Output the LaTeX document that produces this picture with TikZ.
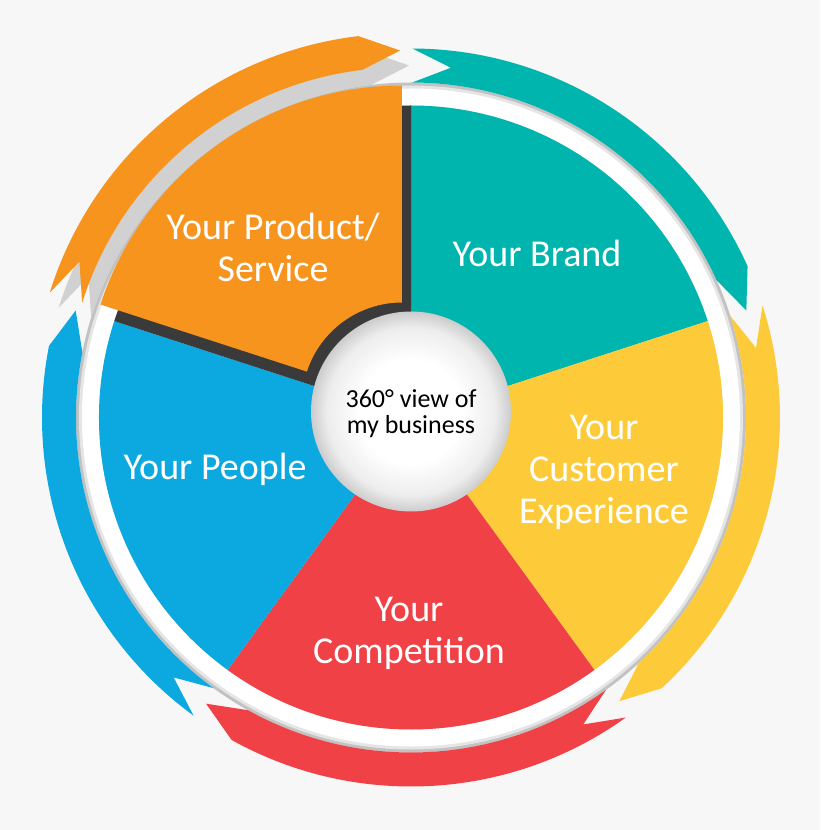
\documentclass[tikz,border=0pt]{standalone}
\usepackage{fontspec}
\setmainfont{Carlito}
\definecolor{bgc}{HTML}{F7F7F7}
\definecolor{cOrange}{HTML}{F7941D}
\definecolor{cTeal}{HTML}{00B5AD}
\definecolor{cYellow}{HTML}{FDCB3A}
\definecolor{cRed}{HTML}{EF4146}
\definecolor{cBlue}{HTML}{0CA8E0}
\definecolor{cShadow}{HTML}{3A3A3A}
\pgfdeclareradialshading{ballshade}{\pgfpoint{0bp}{0bp}}{color(0bp)=(white); color(13bp)=(white); color(21bp)=(black!7); color(25bp)=(black!20); color(50bp)=(black!20)}
\tikzset{
  ringarrow/.style 2 args={insert path={(#1:369) arc[start angle=#1, end angle=#2+6.5, radius=369] -- (#2:352) -- (#2+6.5:335) arc[start angle=#2+6.5, end angle=#1, radius=335] -- (#1-6.3:352) -- cycle}},
  sector/.style 2 args={insert path={(0,0) -- (#1:312) arc[start angle=#1, end angle=#2, radius=312] -- cycle}},
  lbl/.style={text=white, font=\fontsize{38}{42}\selectfont, align=center},
  ctrlbl/.style={text=black, font=\fontsize{26}{26}\selectfont, align=center}
}
\begin{document}
\begin{tikzpicture}[x=1pt,y=1pt]
\useasboundingbox (-411,-412.5) rectangle (409,417.5);
\fill[bgc] (-411,-412.5) rectangle (409,417.5);
% outer ring (tube)
\fill[black!24, even odd rule] (0,0) circle (335) (0,0) circle (312);
\fill[black!10, even odd rule] (0,0) circle (332) (0,0) circle (312);
\fill[white, even odd rule] (0,0) circle (329) (0,0) circle (312);
% arrows
\fill[black!18, ringarrow={162.7}{90.3}];
\fill[cTeal, ringarrow={89.8}{17.7}];
\fill[cYellow, ringarrow={17.7}{-53.7}];
\fill[cRed, ringarrow={-54.4}{-125.6}];
\fill[cBlue, ringarrow={233.9}{162.3}];
\fill[cOrange, shift={(-9,15)}, ringarrow={162.7}{90.3}];
% slices
\fill[cTeal, sector={18}{90}];
\fill[cYellow, sector={-54}{18}];
\fill[cRed, sector={-126}{-54}];
\fill[cBlue, sector={162}{234}];
\fill[cShadow, sector={90}{162}];
\fill[cOrange, shift={(-9,15)}] (90:100) -- (90:317) arc[start angle=90, end angle=162, radius=317] -- (162:100) arc[start angle=162, end angle=90, radius=100] -- cycle;
% centre
\shade[shading=ballshade] (0,6) circle (100);
% labels
\node[lbl] (prod) at (-138,170) {Your Product/\\Service};
\node[lbl] (brand) at (126,164) {Your Brand};
\node[lbl] (cust) at (193,-55) {Your\\Customer\\Experience};
\node[lbl] (comp) at (-2,-216) {Your\\Competition};
\node[lbl] (people) at (-196,-52) {Your People};
\node[ctrlbl] (ctr) at (0,4) {360° view of\\my business};
\end{tikzpicture}
\end{document}
